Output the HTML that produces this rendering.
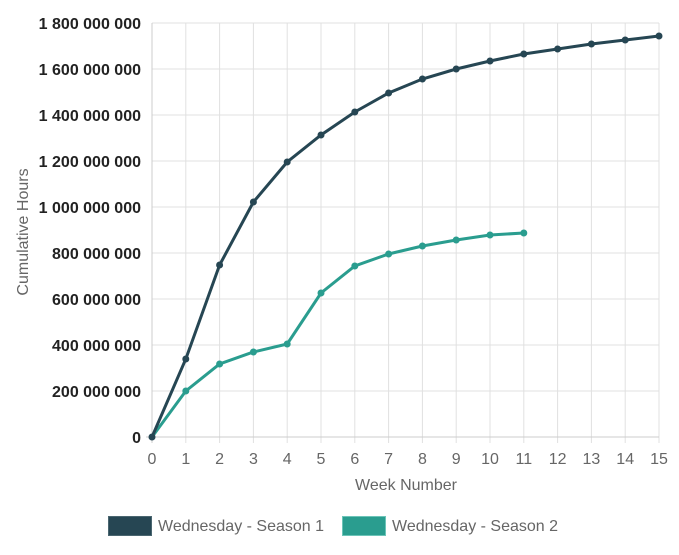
<!DOCTYPE html><html><head><style>body{margin:0;background:#fff}</style></head><body>
<svg width="679" height="550" xmlns="http://www.w3.org/2000/svg" font-family="Liberation Sans, sans-serif">
<g stroke="#e0e0e0" stroke-width="1">
<line x1="152" y1="23" x2="659" y2="23"/><line x1="152" y1="69" x2="659" y2="69"/><line x1="152" y1="115" x2="659" y2="115"/><line x1="152" y1="161" x2="659" y2="161"/><line x1="152" y1="207" x2="659" y2="207"/><line x1="152" y1="253" x2="659" y2="253"/><line x1="152" y1="299" x2="659" y2="299"/><line x1="152" y1="345" x2="659" y2="345"/><line x1="152" y1="391" x2="659" y2="391"/>
<line x1="185.8" y1="23" x2="185.8" y2="443"/><line x1="219.6" y1="23" x2="219.6" y2="443"/><line x1="253.4" y1="23" x2="253.4" y2="443"/><line x1="287.2" y1="23" x2="287.2" y2="443"/><line x1="321" y1="23" x2="321" y2="443"/><line x1="354.8" y1="23" x2="354.8" y2="443"/><line x1="388.6" y1="23" x2="388.6" y2="443"/><line x1="422.4" y1="23" x2="422.4" y2="443"/><line x1="456.2" y1="23" x2="456.2" y2="443"/><line x1="490" y1="23" x2="490" y2="443"/><line x1="523.8" y1="23" x2="523.8" y2="443"/><line x1="557.6" y1="23" x2="557.6" y2="443"/><line x1="591.4" y1="23" x2="591.4" y2="443"/><line x1="625.2" y1="23" x2="625.2" y2="443"/><line x1="659" y1="23" x2="659" y2="443"/>
</g>
<line x1="146" y1="437" x2="659" y2="437" stroke="#ccc"/><line x1="152" y1="23" x2="152" y2="443" stroke="#ccc"/>
<g font-size="16" font-weight="bold" fill="#222" text-anchor="end">
<text x="141" y="29">1 800 000 000</text><text x="141" y="75">1 600 000 000</text><text x="141" y="121">1 400 000 000</text><text x="141" y="167">1 200 000 000</text><text x="141" y="213">1 000 000 000</text><text x="141" y="259">800 000 000</text><text x="141" y="305">600 000 000</text><text x="141" y="351">400 000 000</text><text x="141" y="397">200 000 000</text><text x="141" y="443">0</text>
</g>
<g font-size="16" fill="#666" text-anchor="middle">
<text x="152" y="464">0</text><text x="185.8" y="464">1</text><text x="219.6" y="464">2</text><text x="253.4" y="464">3</text><text x="287.2" y="464">4</text><text x="321" y="464">5</text><text x="354.8" y="464">6</text><text x="388.6" y="464">7</text><text x="422.4" y="464">8</text><text x="456.2" y="464">9</text><text x="490" y="464">10</text><text x="523.8" y="464">11</text><text x="557.6" y="464">12</text><text x="591.4" y="464">13</text><text x="625.2" y="464">14</text><text x="659" y="464">15</text>
<text x="406" y="490">Week Number</text>
<text transform="translate(28,232) rotate(-90)">Cumulative Hours</text>
</g>
<polyline fill="none" stroke="#2a9d8f" stroke-width="3" points="152,437 185.8,391 219.6,364 253.4,352 287.2,344 321,293 354.8,266 388.6,254 422.4,246 456.2,240 490,235 523.8,233"/>
<g fill="#2a9d8f"><circle cx="185.8" cy="391" r="3.5"/><circle cx="219.6" cy="364" r="3.5"/><circle cx="253.4" cy="352" r="3.5"/><circle cx="287.2" cy="344" r="3.5"/><circle cx="321" cy="293" r="3.5"/><circle cx="354.8" cy="266" r="3.5"/><circle cx="388.6" cy="254" r="3.5"/><circle cx="422.4" cy="246" r="3.5"/><circle cx="456.2" cy="240" r="3.5"/><circle cx="490" cy="235" r="3.5"/><circle cx="523.8" cy="233" r="3.5"/></g>
<polyline fill="none" stroke="#264653" stroke-width="3" points="152,437 185.8,359 219.6,265 253.4,202 287.2,162 321,135 354.8,112 388.6,93 422.4,79 456.2,69 490,61 523.8,54 557.6,49 591.4,44 625.2,40 659,36"/>
<g fill="#264653"><circle cx="152" cy="437" r="3.5"/><circle cx="185.8" cy="359" r="3.5"/><circle cx="219.6" cy="265" r="3.5"/><circle cx="253.4" cy="202" r="3.5"/><circle cx="287.2" cy="162" r="3.5"/><circle cx="321" cy="135" r="3.5"/><circle cx="354.8" cy="112" r="3.5"/><circle cx="388.6" cy="93" r="3.5"/><circle cx="422.4" cy="79" r="3.5"/><circle cx="456.2" cy="69" r="3.5"/><circle cx="490" cy="61" r="3.5"/><circle cx="523.8" cy="54" r="3.5"/><circle cx="557.6" cy="49" r="3.5"/><circle cx="591.4" cy="44" r="3.5"/><circle cx="625.2" cy="40" r="3.5"/><circle cx="659" cy="36" r="3.5"/></g>
<rect x="108.5" y="516.5" width="43" height="19" fill="#264653" stroke="#4a6670"/>
<rect x="342.5" y="516.5" width="43" height="19" fill="#2a9d8f" stroke="#6cc4b8"/>
<g font-size="16" fill="#666"><text x="158" y="531">Wednesday - Season 1</text><text x="392" y="531">Wednesday - Season 2</text></g>
</svg></body></html>
